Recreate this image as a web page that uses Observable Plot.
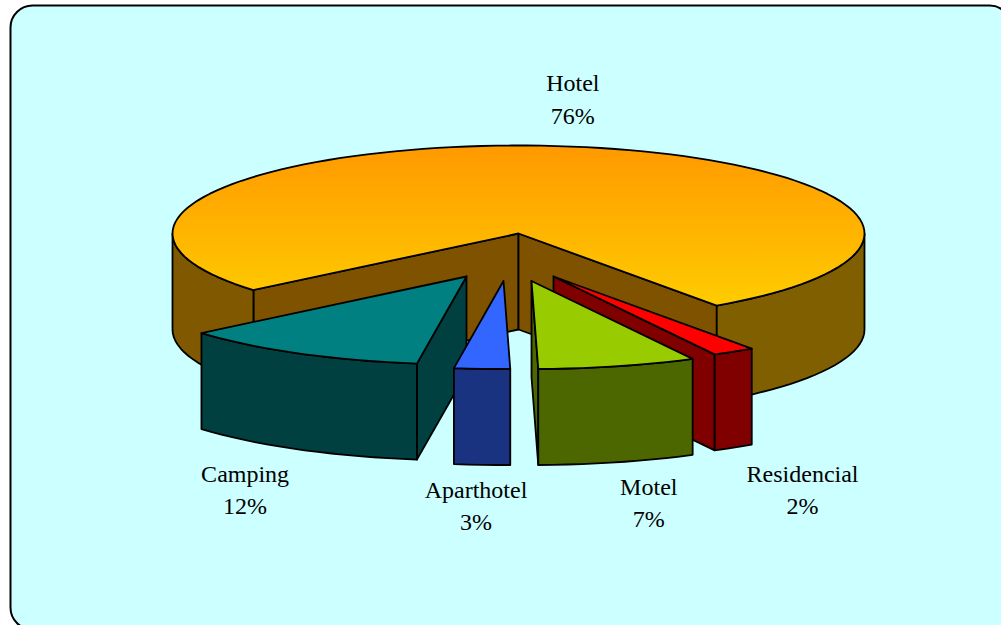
<!DOCTYPE html>
<html>
<head>
<meta charset="utf-8">
<style>
  html, body { margin: 0; padding: 0; background: #fff; overflow: hidden; }
  svg { display: block; background: transparent; }
</style>
<script src="https://cdn.jsdelivr.net/npm/d3@7"></script>
<script src="https://cdn.jsdelivr.net/npm/@observablehq/plot@0.6"></script>
</head>
<body>
<script>
// ---- data ----
const categories = ["Hotel", "Residencial", "Motel", "Aparthotel", "Camping"];
const shares = [76.4, 2, 7.4, 2.6, 11.6];

// ---- style and layout ----
const WIDTH = 1001, HEIGHT = 625;
const pie = {cx: 518, cy: 233, rx: 346, ry: 88, depth: 96, startAngle: 140, arcStep: 2.5};
const look = {
  Hotel:       {explode: [0, 0],    label: [9, -49],  top: "url(#hotelTop)", wall: "#7f5200", outerLeft: "#7f5800", outerRight: "#7f5f00"},
  Residencial: {explode: [35, 43],  label: [69, 136], top: "#ff0000", wall: "#800000"},
  Motel:       {explode: [13, 47.5], label: [31, 134.5], top: "#99cc00", wall: "#4c6600"},
  Aparthotel:  {explode: [-15, 47.5], label: [-6, 134.5], top: "#3366ff", wall: "#1a3380"},
  Camping:     {explode: [-52, 43], label: [-53, 134], top: "#008080", wall: "#004040"}
};
const drawOrder = ["Hotel", "Residencial", "Camping", "Motel", "Aparthotel"];
const rad = Math.PI / 180;

// ---- slice geometry from the shares ----
const total = d3.sum(shares);
let cursor = pie.startAngle;
const slices = categories.map((name, i) => {
  const t0 = cursor, t1 = cursor + shares[i] / total * 360;
  cursor = t1;
  const [ox, oy] = look[name].explode;
  return {name, share: shares[i], t0, t1, cx: pie.cx + ox, cy: pie.cy + oy};
});

function at(s, t, z = 0) {
  return {x: s.cx + pie.rx * Math.cos(t * rad), y: s.cy + pie.ry * Math.sin(t * rad) + z};
}
function arc(s, a, b) {
  const n = Math.max(1, Math.ceil(Math.abs(b - a) / pie.arcStep));
  return d3.range(n + 1).map(k => a + (b - a) * k / n);
}
const closed = pts => [...pts, pts[0]];
function face(points, fill) {
  return Plot.line(closed(points), {
    x: "x", y: "y", fill, stroke: "#000", strokeWidth: 1.8,
    strokeLinejoin: "round", curve: "linear"
  });
}
function radialWall(s, t, fill) {
  const c = {x: s.cx, y: s.cy};
  return face([c, at(s, t), at(s, t, pie.depth), {x: c.x, y: c.y + pie.depth}], fill);
}
function outerWall(s, a, b, fill) {
  const ts = arc(s, a, b);
  return face([...ts.map(t => at(s, t)), ...ts.slice().reverse().map(t => at(s, t, pie.depth))], fill);
}
function topFace(s, fill) {
  return face([{x: s.cx, y: s.cy}, ...arc(s, s.t0, s.t1).map(t => at(s, t))], fill);
}
// the parts of the front rim that face the viewer (sin t > 0)
function frontRuns(a, b) {
  const runs = [];
  for (let k = Math.floor(a / 360) - 1; k <= Math.ceil(b / 360) + 1; k++) {
    const lo = Math.max(a, k * 360), hi = Math.min(b, k * 360 + 180);
    if (hi > lo) runs.push([lo, hi]);
  }
  return runs;
}
function sliceMarks(s) {
  const l = look[s.name], marks = [];
  const cos = t => Math.cos(t * rad);
  if (cos(s.t0) < 0) marks.push(radialWall(s, s.t0, l.wall));
  if (cos(s.t1) > 0) marks.push(radialWall(s, s.t1, l.wall));
  for (const [a, b] of frontRuns(s.t0, s.t1)) {
    const fill = l.outerLeft ? (cos((a + b) / 2) < 0 ? l.outerLeft : l.outerRight) : l.wall;
    marks.push(outerWall(s, a, b, fill));
  }
  marks.push(topFace(s, l.top));
  return marks;
}

const byName = new Map(slices.map(s => [s.name, s]));
const labels = slices.map(s => {
  const p = at(s, (s.t0 + s.t1) / 2), [dx, dy] = look[s.name].label;
  return {x: p.x + dx, y: p.y + dy, text: `${s.name}\n${Math.round(s.share)}%`};
});

const defs = () => {
  const d = document.createElementNS("http://www.w3.org/2000/svg", "defs");
  d.innerHTML = `<linearGradient id="hotelTop" x1="0" y1="0" x2="0" y2="1">
    <stop offset="0" stop-color="#ff9900"/><stop offset="1" stop-color="#ffcc00"/></linearGradient>`;
  return d;
};

const chart = Plot.plot({
  width: WIDTH, height: HEIGHT,
  margin: 0,
  style: {background: "transparent"},
  x: {domain: [0, WIDTH], range: [0, WIDTH], axis: null},
  y: {domain: [0, HEIGHT], range: [0, HEIGHT], axis: null},
  marks: [
    defs,
    Plot.frame({fill: "#ccffff", stroke: "#000", strokeWidth: 2, rx: 22, insetLeft: 10, insetTop: 5, insetRight: -10, insetBottom: -4}),
    ...drawOrder.flatMap(name => sliceMarks(byName.get(name))),
    Plot.text(labels, {
      x: "x", y: "y", text: "text", fill: "#000", fontFamily: "Liberation Serif",
      fontSize: 24, lineHeight: 1.35, textAnchor: "middle"
    })
  ]
});
document.body.append(chart);
</script>
</body>
</html>
